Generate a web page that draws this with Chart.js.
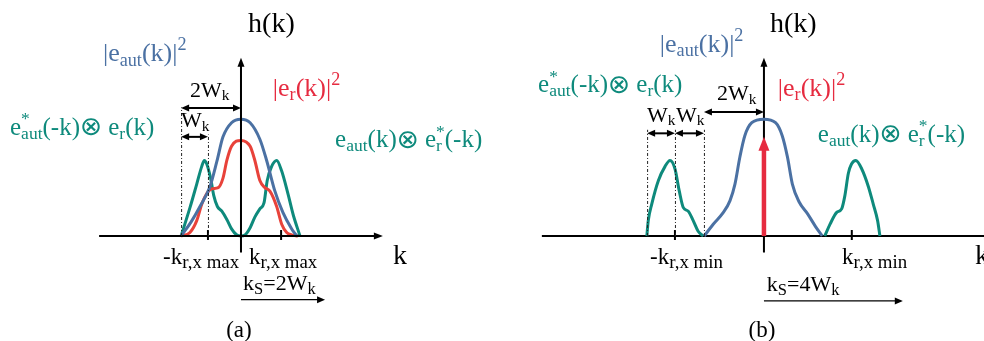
<!DOCTYPE html>
<html>
<head>
<meta charset="utf-8">
<script src="https://cdn.jsdelivr.net/npm/chart.js@4/dist/chart.umd.min.js"></script>
<style>
  html, body { margin: 0; padding: 0; background: #fff; }
  #wrap { position: relative; width: 984px; height: 341px; overflow: hidden; }
  .pane { position: absolute; top: 0; width: 492px; height: 341px; }
</style>
</head>
<body>
<div id="wrap">
  <div class="pane" style="left:0"><canvas id="chartA" width="492" height="341"></canvas></div>
  <div class="pane" style="left:492px"><canvas id="chartB" width="492" height="341"></canvas></div>
</div>
<script>
'use strict';

/* k in units of W_k, h relative to the |e_aut|^2 peak */

// (a) overlapping spectra
const autA_k   = [-2.03,-1.69,-1.39,-1.05,-0.82,-0.61,-0.32,0,0.31,0.64,0.87,1.15,1.42,1.72,1.89];
const autA_h   = [0,0.12,0.25,0.42,0.63,0.84,0.96,0.99,0.96,0.82,0.64,0.38,0.20,0.06,0];
const refA_k   = [-2.03,-1.73,-1.50,-1.33,-1.16,-0.99,-0.77,-0.61,-0.48,-0.32,0,0.31,0.47,0.64,0.81,0.98,1.21,1.38,1.55,1.72,1.93];
const refA_h   = [0,0.03,0.13,0.27,0.36,0.40,0.41,0.49,0.64,0.76,0.81,0.76,0.64,0.47,0.41,0.38,0.25,0.10,0.03,0.01,0];
const crossA_k = [-2.03,-1.73,-1.50,-1.33,-1.24,-1.16,-1.03,-0.92,-0.80,-0.65,-0.48,-0.32,-0.15,0,0.14,0.31,0.47,0.64,0.78,0.89,1.04,1.21,1.38,1.60,1.77,2.00];
const crossA_h = [0,0.24,0.44,0.59,0.64,0.61,0.49,0.34,0.25,0.21,0.14,0.06,0.01,0,0.01,0.07,0.16,0.23,0.28,0.47,0.59,0.64,0.55,0.35,0.18,0];
const ticksA   = [-1.12, 1.36];

// (b) separated spectra, delta-like reference
const autB_k    = [-2.06,-1.75,-1.40,-1.17,-1.00,-0.83,-0.66,-0.42,0,0.40,0.63,0.81,0.98,1.21,1.50,1.78,2.01];
const autB_h    = [0,0.10,0.20,0.30,0.44,0.67,0.85,0.96,0.99,0.96,0.85,0.67,0.44,0.29,0.19,0.08,0];
const crossLB_k = [-4.04,-3.99,-3.87,-3.64,-3.41,-3.24,-3.07,-2.92,-2.78,-2.61,-2.44,-2.27,-2.09];
const crossLB_h = [0,0.13,0.27,0.47,0.59,0.64,0.57,0.38,0.24,0.21,0.13,0.04,0];
const crossRB_k = [2.10,2.28,2.51,2.68,2.79,2.91,3.02,3.17,3.37,3.60,3.77,3.92,4.00];
const crossRB_h = [0,0.10,0.20,0.23,0.34,0.53,0.61,0.64,0.57,0.42,0.27,0.13,0];
const refB_k    = [0, 0];
const refB_h    = [0, 0.84];
const ticksB    = [-3.07, 3.03];

const BLUE = '#4b71a3', TEAL = '#0e8a7c', RED = '#e8423a', RED_T = '#e62b40';
const FONT = '"Liberation Serif", "DejaVu Serif", serif';
const OP_FONT = '"DejaVu Sans", sans-serif';

const pts = (ks, hs) => ks.map((k, i) => ({ x: k, y: hs[i] }));

function curve(ks, hs, color, extra){
  return Object.assign({ data: pts(ks, hs), borderColor: color, borderWidth: 3, pointRadius: 0,
    cubicInterpolationMode: 'monotone', fill: false, clip: false }, extra || {});
}

// text with _{sub} and ^{sup}; a ^{} right before a _{} stacks over it; ⊗ gets its own run
function parse(str){
  const out = [];
  let i = 0;
  while (i < str.length){
    const c = str[i];
    if ((c === '_' || c === '^') && str[i + 1] === '{'){
      const j = str.indexOf('}', i);
      out.push({ t: str.slice(i + 2, j), k: c === '_' ? 'sub' : 'sup' });
      i = j + 1;
    } else if (c === '⊗'){
      out.push({ t: c, k: 'op' }); i++;
    } else {
      let last = out[out.length - 1];
      if (!last || last.k !== 'n'){ last = { t: '', k: 'n' }; out.push(last); }
      last.t += c; i++;
    }
  }
  return out;
}

function fontOf(s, size, ratio){
  if (s.k === 'op') return (size * 1.05) + 'px ' + OP_FONT;
  return (s.k === 'n' ? size : size * ratio) + 'px ' + FONT;
}

function rich(ctx, str, x, y, size, color, align, ratio){
  const segs = parse(str);
  ratio = ratio || 0.7;
  let w = 0, lastX = 0;
  const xs = [];
  segs.forEach((s, i) => {
    ctx.font = fontOf(s, size, ratio);
    const sw = ctx.measureText(s.t).width;
    const prev = segs[i - 1];
    if (prev && prev.k === 'sup' && s.k === 'sub'){ xs.push(lastX); w = Math.max(w, lastX + sw); }
    else { lastX = w; xs.push(w); w += sw; }
  });
  const x0 = align === 'center' ? x - w / 2 : x;
  ctx.save();
  ctx.fillStyle = color; ctx.textBaseline = 'alphabetic'; ctx.textAlign = 'left';
  segs.forEach((s, i) => {
    ctx.font = fontOf(s, size, ratio);
    const dy = s.k === 'sub' ? size * 0.16 : s.k === 'sup' ? -size * 0.42 : s.k === 'op' ? size * 0.02 : 0;
    ctx.fillText(s.t, x0 + xs[i], y + dy);
  });
  ctx.restore();
}

function head(ctx, x1, y1, x2, y2, len, wid, color){
  const a = Math.atan2(y2 - y1, x2 - x1);
  ctx.save();
  ctx.translate(x2, y2); ctx.rotate(a);
  ctx.beginPath(); ctx.moveTo(0, 0); ctx.lineTo(-len, -wid / 2); ctx.lineTo(-len, wid / 2); ctx.closePath();
  ctx.fillStyle = color; ctx.fill();
  ctx.restore();
}

function arrow(ctx, x1, y, x2, both, lw){
  ctx.save();
  ctx.strokeStyle = '#000'; ctx.lineWidth = lw;
  ctx.beginPath(); ctx.moveTo(x1 + (both ? 4 : 0), y); ctx.lineTo(x2 - 4, y); ctx.stroke();
  ctx.restore();
  head(ctx, x1, y, x2, y, 8, 7, '#000');
  if (both) head(ctx, x2, y, x1, y, 8, 7, '#000');
}

function drawAxes(chart){
  const o = chart.options.plugins.sketch, ctx = chart.ctx;
  const sx = chart.scales.x, sy = chart.scales.y;
  const y0 = sy.getPixelForValue(0), x0 = sx.getPixelForValue(0);
  const xl = sx.getPixelForValue(o.axisK[0]), xr = sx.getPixelForValue(o.axisK[1]);
  const yb = sy.getPixelForValue(o.axisH[0]), yt = sy.getPixelForValue(o.axisH[1]);
  ctx.save();
  ctx.strokeStyle = '#000'; ctx.lineWidth = 2;
  ctx.beginPath();
  ctx.moveTo(xl, y0); ctx.lineTo(xr - 6, y0);
  ctx.moveTo(x0, yb); ctx.lineTo(x0, yt + 6);
  o.ticks.forEach(k => { const x = sx.getPixelForValue(k); ctx.moveTo(x, y0 - 6); ctx.lineTo(x, y0 + 4); });
  ctx.stroke();
  ctx.restore();
  head(ctx, xl, y0, xr, y0, 9, 7, '#000');
  head(ctx, x0, yb, x0, yt, 9, 7, '#000');
}

const sketch = {
  id: 'sketch',
  beforeDraw(chart){ chart.$axes = false; },
  beforeDatasetDraw(chart, args){
    const ds = chart.data.datasets[args.index];
    if (!ds.pointer) return;
    if (!chart.$axes){ drawAxes(chart); chart.$axes = true; }
    // keep the shaft below the arrow head
    const tip = args.meta.data[args.meta.data.length - 1];
    chart.ctx.save();
    chart.ctx.beginPath(); chart.ctx.rect(0, tip.y + 8, chart.width, chart.height); chart.ctx.clip();
  },
  afterDatasetDraw(chart, args){
    const ds = chart.data.datasets[args.index];
    if (!ds.pointer) return;
    chart.ctx.restore();
    const p = args.meta.data, a = p[0], b = p[p.length - 1];
    head(chart.ctx, a.x, a.y, b.x, b.y, 14, 11, ds.borderColor);
  },
  afterDatasetsDraw(chart){
    const o = chart.options.plugins.sketch, ctx = chart.ctx;
    const sx = chart.scales.x, sy = chart.scales.y;
    const X = v => sx.getPixelForValue(v), Y = v => sy.getPixelForValue(v);
    if (!chart.$axes) drawAxes(chart);
    ctx.save();
    ctx.strokeStyle = '#222'; ctx.lineWidth = 1; ctx.setLineDash([3, 2, 1, 2]);
    ctx.beginPath();
    o.guides.forEach(g => { ctx.moveTo(X(g.k) + 0.5, Y(0)); ctx.lineTo(X(g.k) + 0.5, Y(g.h)); });
    ctx.stroke();
    ctx.restore();
    o.dims.forEach(d => arrow(ctx, X(d.k0), Y(d.h), X(d.k1), true, 2));
    arrow(ctx, X(o.shift.k0), Y(o.shift.h), X(o.shift.k1), false, 1.3);
    o.notes.forEach(n => rich(ctx, n.t, X(n.k), Y(n.h), n.size, n.color || '#000', n.align, n.sub));
  }
};

function scales(kMin, kMax){
  return {
    x: { type: 'linear', display: false, min: kMin, max: kMax },
    y: { type: 'linear', display: false, min: -0.89, max: 2.0 }
  };
}

function makeChart(id, datasets, kMin, kMax, sk){
  return new Chart(document.getElementById(id), {
    type: 'line',
    data: { datasets },
    options: {
      responsive: false, animation: false, events: [],
      layout: { padding: 0 },
      parsing: false,
      scales: scales(kMin, kMax),
      plugins: { legend: { display: false }, tooltip: { enabled: false }, sketch: sk }
    },
    plugins: [sketch]
  });
}

makeChart('chartA', [
  curve(autA_k, autA_h, BLUE),
  curve(refA_k, refA_h, RED),
  curve(crossA_k, crossA_h, TEAL)
], -8.17, 8.51, {
  axisK: [-4.81, 4.81], axisH: [-0.14, 1.51], ticks: ticksA,
  guides: [{ k: -2.03, h: 1.09 }, { k: -1.12, h: 0.86 }],
  dims: [{ k0: -2.03, k1: 0, h: 1.085 }, { k0: -2.03, k1: -1.12, h: 0.84 }],
  shift: { k0: 0, k1: 2.85, h: -0.54 },
  notes: [
    { t: 'h(k)', k: 0.24, h: 1.73, size: 28 },
    { t: '|e_{aut}(k)|^{2}', k: -4.68, h: 1.48, size: 26, color: BLUE },
    { t: '|e_{r}(k)|^{2}', k: 1.08, h: 1.19, size: 26, color: RED_T },
    { t: 'e^{*}_{aut}(-k)⊗ e_{r}(k)', k: -7.83, h: 0.86, size: 25, color: TEAL },
    { t: 'e_{aut}(k)⊗ e^{*}_{r}(-k)', k: 3.19, h: 0.75, size: 25, color: TEAL },
    { t: '2W_{k}', k: -1.73, h: 1.18, size: 22 },
    { t: 'W_{k}', k: -2.03, h: 0.92, size: 22 },
    { t: '-k_{r,x max}', k: -2.64, h: -0.24, size: 23, sub: 0.82 },
    { t: 'k_{r,x max}', k: 0.27, h: -0.24, size: 23, sub: 0.82 },
    { t: 'k', k: 5.15, h: -0.24, size: 28 },
    { t: 'k_{S}=2W_{k}', k: 0.07, h: -0.46, size: 22, sub: 0.75 },
    { t: '(a)', k: -0.07, h: -0.86, size: 23, align: 'center' }
  ]
});

makeChart('chartB', [
  curve(autB_k, autB_h, BLUE),
  curve(crossLB_k, crossLB_h, TEAL),
  curve(crossRB_k, crossRB_h, TEAL),
  curve(refB_k, refB_h, RED_T, { borderWidth: 4.5, cubicInterpolationMode: 'default', pointer: true })
], -9.38, 7.59, {
  axisK: [-7.66, 7.9], axisH: [-0.14, 1.51], ticks: ticksB,
  guides: [{ k: -4.03, h: 0.9 }, { k: -3.07, h: 0.9 }, { k: -2.07, h: 0.9 }],
  dims: [{ k0: -2.07, k1: 0, h: 1.05 }, { k0: -4.03, k1: -3.07, h: 0.87 }, { k0: -3.07, k1: -2.07, h: 0.87 }],
  shift: { k0: 0, k1: 4.79, h: -0.55 },
  notes: [
    { t: 'h(k)', k: 0.21, h: 1.73, size: 28 },
    { t: '|e_{aut}(k)|^{2}', k: -3.59, h: 1.56, size: 26, color: BLUE },
    { t: '|e_{r}(k)|^{2}', k: 0.48, h: 1.19, size: 26, color: RED_T },
    { t: 'e^{*}_{aut}(-k)⊗ e_{r}(k)', k: -7.79, h: 1.22, size: 25, color: TEAL },
    { t: 'e_{aut}(k)⊗ e^{*}_{r}(-k)', k: 1.86, h: 0.80, size: 25, color: TEAL },
    { t: '2W_{k}', k: -1.62, h: 1.15, size: 22 },
    { t: 'W_{k}', k: -4.03, h: 0.97, size: 22 },
    { t: 'W_{k}', k: -3.03, h: 0.97, size: 22 },
    { t: '-k_{r,x min}', k: -3.93, h: -0.24, size: 23, sub: 0.82 },
    { t: 'k_{r,x min}', k: 2.69, h: -0.24, size: 23, sub: 0.82 },
    { t: 'k', k: 7.28, h: -0.24, size: 28 },
    { t: 'k_{S}=4W_{k}', k: 0.1, h: -0.47, size: 22, sub: 0.75 },
    { t: '(b)', k: -0.07, h: -0.86, size: 23, align: 'center' }
  ]
});
</script>
</body>
</html>
